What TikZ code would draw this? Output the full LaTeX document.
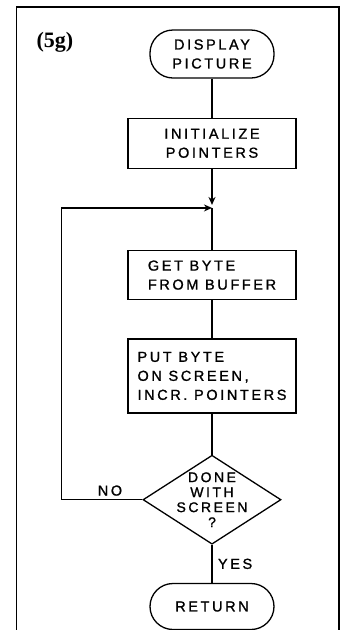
\documentclass[tikz,border=0pt]{standalone}
\usepackage{fontspec}
\setmainfont{Liberation Sans}[LetterSpace=18, FakeBold=1.2]
\newfontfamily\tagfont{Liberation Serif}
\usetikzlibrary{arrows.meta, positioning, shapes.geometric}

\begin{document}
\begin{tikzpicture}[
    x=1pt, y=1pt,
    >={Stealth[length=8pt, width=7pt]},
    line width=1.3pt,
    term/.style={draw, rectangle, rounded corners=23pt, minimum width=124pt, align=center,
      font=\fontsize{14.5}{19}\selectfont},
    block/.style={draw, rectangle, minimum width=168pt, font=\fontsize{14.5}{19}\selectfont},
    decision/.style={draw, diamond, minimum width=138pt, minimum height=89pt, inner sep=0pt},
    lbl/.style={font=\fontsize{14.5}{17}\selectfont}
  ]
  \useasboundingbox (0,0) rectangle (351,-630);

  % --- frame ---
  \draw (16.5,-632) |- (339,-7) -- (339,-632);
  \node[font=\tagfont\bfseries\fontsize{22}{24}\selectfont] (tag) at (55,-42) {(5g)};

  % --- main column ---
  \node[term, minimum height=48pt] (disp) at (212,-54) {DISPLAY\\PICTURE};
  \node[block, minimum height=50pt, align=center, below=39pt of disp] (init) {INITIALIZE\\POINTERS};
  \coordinate[below=39pt of init] (join);
  \node[block, minimum height=49pt, align=left, below=81pt of init] (get) {GET BYTE\\FROM BUFFER};
  \node[block, minimum height=74pt, align=left, below=38pt of get] (put) {PUT BYTE\\ON SCREEN,\\INCR. POINTERS};
  \node[decision, below=41pt of put,
    label={[align=center, font=\fontsize{14}{15}\selectfont]center:DONE\\WITH\\SCREEN\\?}] (done) {};
  \node[term, minimum height=46pt, below=38pt of done] (ret) {RETURN};

  % --- connectors ---
  \draw (disp) -- (init);
  \draw[->, shorten >=3pt] (init) -- (join);
  \draw (join) -- (get);
  \draw (get) -- (put);
  \draw (put) -- (done);
  \draw (done) -- node[lbl, right, xshift=2pt] {YES} (ret);
  \draw[->] (done.west) -- node[lbl, above, pos=0.4] {NO} ++(-81pt,0) |- (join);
\end{tikzpicture}
\end{document}
